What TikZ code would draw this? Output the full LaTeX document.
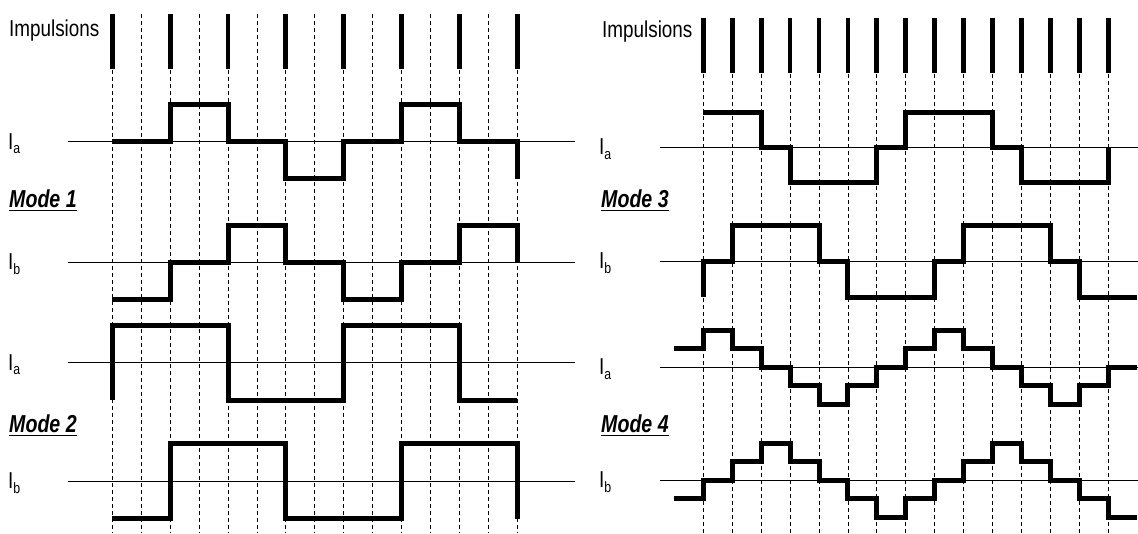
\documentclass[tikz,border=0pt]{standalone}
\usepackage{fontspec}
\setmainfont{Liberation Sans}
\newfontfamily\lblfont[FakeStretch=0.82]{Liberation Sans}
\newfontfamily\modefont[FakeStretch=0.8]{Liberation Sans}
\newcommand{\sublbl}[1]{I{\fontsize{15}{15}\selectfont\raisebox{-4.5pt}{#1}}}
\begin{document}
\begin{tikzpicture}[x=1pt,y=-1pt,
  gridline/.style={line width=0.8pt,dash pattern=on 4pt off 3pt},
  axisline/.style={line width=1pt},
  wave/.style={line width=5pt,line join=miter},
  imp/.style={line width=4.8pt},
  lbl/.style={inner sep=0pt,anchor=base west,font=\lblfont\fontsize{23}{23}\selectfont},
  modelbl/.style={inner sep=0pt,anchor=base west,font=\modefont\fontsize{24.5}{24.5}\selectfont\bfseries\itshape}]
\fill[white] (0,0) rectangle (1138,533);
\useasboundingbox (0,0) rectangle (1138,533);

% ---------- left panel ----------
\foreach \i in {0,...,14} \draw[gridline] ({112.3+28.93*\i},14) -- ({112.3+28.93*\i},533);
\foreach \i in {0,2,...,14} \draw[imp] ({112.3+28.93*\i},14) -- ({112.3+28.93*\i},69);
\foreach \yy in {141.7,262,362.5,481} \draw[axisline] (68,\yy) -- (575,\yy);

\node[lbl] (imL) at (9,36) {Impulsions};
\node[lbl] (iaL1) at (8,149) {\sublbl{a}};
\node[lbl] (ibL1) at (8,269.5) {\sublbl{b}};
\node[lbl] (iaL2) at (8,370) {\sublbl{a}};
\node[lbl] (ibL2) at (8,488.5) {\sublbl{b}};
\node[modelbl] (m1) at (9,207) {Mode 1};
\node[modelbl] (m2) at (9,432) {Mode 2};
\draw[line width=1.8pt] ([yshift=-3pt]m1.south west) -- ([yshift=-3pt]m1.south east);
\draw[line width=1.8pt] ([yshift=-3pt]m2.south west) -- ([yshift=-3pt]m2.south east);

\begin{scope}[shift={(112.3pt,-141.7pt)},x=28.93pt,y=37pt]
\draw[wave] (0,0)--(2,0)--(2,1)--(4,1)--(4,0)--(6,0)--(6,-1)--(8,-1)--(8,0)--(10,0)--(10,1)--(12,1)--(12,0)--(14,0)--(14,-1);
\end{scope}
\begin{scope}[shift={(112.3pt,-262pt)},x=28.93pt,y=37pt]
\draw[wave] (0,-1)--(2,-1)--(2,0)--(4,0)--(4,1)--(6,1)--(6,0)--(8,0)--(8,-1)--(10,-1)--(10,0)--(12,0)--(12,1)--(14,1)--(14,0);
\end{scope}
\begin{scope}[shift={(112.3pt,-362.5pt)},x=28.93pt,y=37.5pt]
\draw[wave] (0,-1)--(0,1)--(4,1)--(4,-1)--(8,-1)--(8,1)--(12,1)--(12,-1)--(14,-1);
\end{scope}
\begin{scope}[shift={(112.3pt,-481pt)},x=28.93pt,y=37.5pt]
\draw[wave] (0,-1)--(2,-1)--(2,1)--(6,1)--(6,-1)--(10,-1)--(10,1)--(14,1)--(14,-1);
\end{scope}

% ---------- right panel ----------
\foreach \j in {0,...,14} \draw[gridline] ({703.3+28.93*\j},18) -- ({703.3+28.93*\j},533);
\foreach \j in {0,...,14} \draw[imp] ({703.3+28.93*\j},18) -- ({703.3+28.93*\j},73);
\foreach \yy in {147,261,367,480} \draw[axisline] (660,\yy) -- (1138,\yy);

\node[lbl] (imR) at (602,37) {Impulsions};
\node[lbl] (iaR3) at (599,154.5) {\sublbl{a}};
\node[lbl] (ibR3) at (599,268.5) {\sublbl{b}};
\node[lbl] (iaR4) at (599,374.5) {\sublbl{a}};
\node[lbl] (ibR4) at (599,487.5) {\sublbl{b}};
\node[modelbl] (m3) at (601,207) {Mode 3};
\node[modelbl] (m4) at (601,432) {Mode 4};
\draw[line width=1.8pt] ([yshift=-3pt]m3.south west) -- ([yshift=-3pt]m3.south east);
\draw[line width=1.8pt] ([yshift=-3pt]m4.south west) -- ([yshift=-3pt]m4.south east);

\begin{scope}[shift={(703.3pt,-147pt)},x=28.93pt,y=35pt]
\draw[wave] (0,1)--(2,1)--(2,0)--(3,0)--(3,-1)--(6,-1)--(6,0)--(7,0)--(7,1)--(10,1)--(10,0)--(11,0)--(11,-1)--(14,-1)--(14,0);
\end{scope}
\begin{scope}[shift={(703.3pt,-261pt)},x=28.93pt,y=36pt]
\draw[wave] (0,-1)--(0,0)--(1,0)--(1,1)--(4,1)--(4,0)--(5,0)--(5,-1)--(8,-1)--(8,0)--(9,0)--(9,1)--(12,1)--(12,0)--(13,0)--(13,-1)--(15,-1);
\end{scope}
\begin{scope}[shift={(703.3pt,-367pt)},x=28.93pt,y=18.5pt]
\draw[wave] (-1,1)--(0,1)--(0,2)--(1,2)--(1,1)--(2,1)--(2,0)--(3,0)--(3,-1)--(4,-1)--(4,-2)--(5,-2)--(5,-1)--(6,-1)--(6,0)--(7,0)--(7,1)--(8,1)--(8,2)--(9,2)--(9,1)--(10,1)--(10,0)--(11,0)--(11,-1)--(12,-1)--(12,-2)--(13,-2)--(13,-1)--(14,-1)--(14,0)--(15,0);
\end{scope}
\begin{scope}[shift={(703.3pt,-480pt)},x=28.93pt,y=18.5pt]
\draw[wave] (-1,-1)--(0,-1)--(0,0)--(1,0)--(1,1)--(2,1)--(2,2)--(3,2)--(3,1)--(4,1)--(4,0)--(5,0)--(5,-1)--(6,-1)--(6,-2)--(7,-2)--(7,-1)--(8,-1)--(8,0)--(9,0)--(9,1)--(10,1)--(10,2)--(11,2)--(11,1)--(12,1)--(12,0)--(13,0)--(13,-1)--(14,-1)--(14,-2)--(15,-2);
\end{scope}
\end{tikzpicture}
\end{document}
